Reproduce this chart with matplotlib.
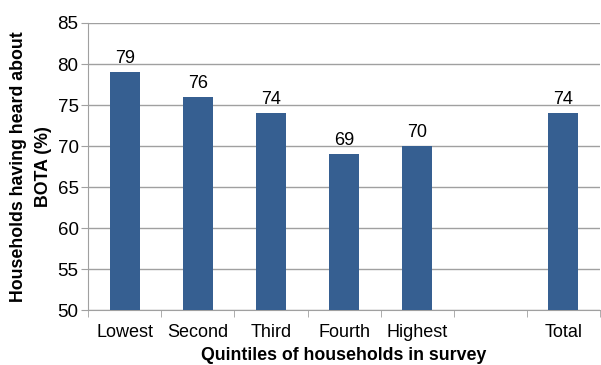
import matplotlib.pyplot as plt
import numpy as np

plt.rcParams['font.family'] = ['Liberation Sans', 'DejaVu Sans']

categories = ["Lowest", "Second", "Third", "Fourth", "Highest", "", "Total"]
values = [79, 76, 74, 69, 70, None, 74]

fig, ax = plt.subplots(figsize=(6.01, 3.65), dpi=100)
fig.subplots_adjust(left=0.147, right=0.998, top=0.937, bottom=0.15)

x = np.arange(len(categories))
bar_color = "#365F91"
for xi, v in zip(x, values):
    if v is None:
        continue
    ax.bar(xi, v - 50, bottom=50, width=0.41, color=bar_color, zorder=3)
    ax.text(xi, v + 0.6, str(v), ha="center", va="bottom", fontsize=13, color="black")

ax.set_xlim(-0.5, len(categories) - 0.5)
ax.set_ylim(50, 85)
ax.set_yticks(np.arange(50, 86, 5))
ax.yaxis.grid(True, color="#A0A0A0", linewidth=1, zorder=0)

ax.set_xticks(x)
ax.set_xticklabels(categories, fontsize=13)
ax.set_xticks(np.arange(-0.5, len(categories), 1), minor=True)
ax.tick_params(axis="x", which="major", length=0, pad=10)
ax.tick_params(axis="x", which="minor", length=5, color="#A0A0A0")
ax.tick_params(axis="y", length=5, color="#A0A0A0", labelsize=13.5, pad=2)

for s in ["top", "right"]:
    ax.spines[s].set_visible(False)
for s in ["left", "bottom"]:
    ax.spines[s].set_color("#A0A0A0")

ax.set_xlabel("Quintiles of households in survey", fontsize=12.8, fontweight="bold", labelpad=4)
ax.set_ylabel("Households having heard about\nBOTA (%)", fontsize=12.8, fontweight="bold",
              linespacing=1.55, va="center")
ax.yaxis.set_label_coords(-0.112, 0.5)

fig.savefig("out.png", dpi=100)
